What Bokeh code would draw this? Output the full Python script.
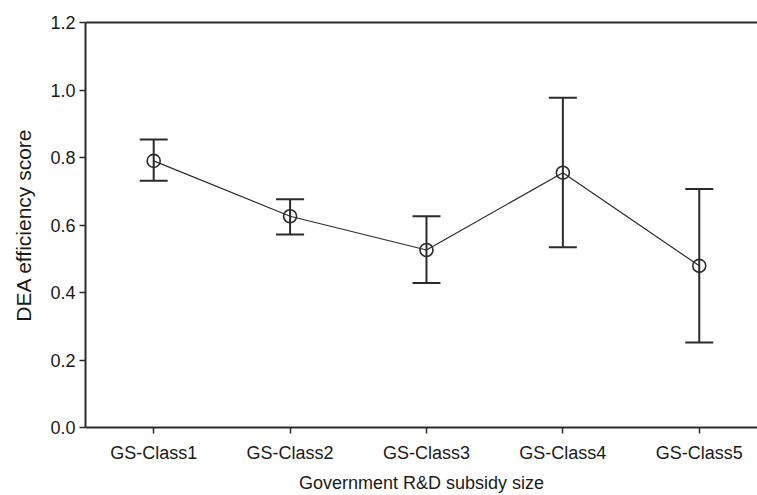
from bokeh.plotting import figure
from bokeh.models import (ColumnDataSource, Whisker, TeeHead, FixedTicker,
                          LinearAxis, NumeralTickFormatter)
from bokeh.embed import file_html
from bokeh.resources import INLINE

# ---- data ----
categories = ["GS-Class1", "GS-Class2", "GS-Class3", "GS-Class4", "GS-Class5"]
mean_score = [0.790, 0.626, 0.526, 0.755, 0.479]
upper_ci = [0.853, 0.676, 0.626, 0.977, 0.707]
lower_ci = [0.731, 0.572, 0.428, 0.534, 0.252]
y_ticks = [0.0, 0.2, 0.4, 0.6, 0.8, 1.0, 1.2]

xpos = [i + 1 for i in range(len(categories))]
src = ColumnDataSource(dict(x=xpos, mean=mean_score, upper=upper_ci, lower=lower_ci))

INK = "#2b2b2b"
FONT = "'Liberation Sans', Arial, sans-serif"

p = figure(width=757, height=495, x_range=(0.5, 5.427), y_range=(0, 1.2),
           output_backend="svg", toolbar_location=None,
           min_border_left=85, min_border_right=0, min_border_top=22,
           min_border_bottom=65)
p.outline_line_color = None
p.xgrid.visible = False
p.ygrid.visible = False
p.background_fill_color = "white"

# error bars
w = Whisker(source=src, base="x", upper="upper", lower="lower",
            line_color=INK, line_width=2,
            upper_head=TeeHead(size=28, line_color=INK, line_width=2),
            lower_head=TeeHead(size=28, line_color=INK, line_width=2))
p.add_layout(w)

p.line("x", "mean", source=src, line_color=INK, line_width=1.2)
p.scatter("x", "mean", source=src, marker="circle", size=13,
          fill_color=None, line_color=INK, line_width=1.6)

# axes
xa = p.xaxis[0]
xa.ticker = FixedTicker(ticks=xpos)
xa.major_label_overrides = {x: c for x, c in zip(xpos, categories)}
xa.axis_label = "Government R&D subsidy size"

ya = p.yaxis[0]
ya.ticker = FixedTicker(ticks=y_ticks)
ya.formatter = NumeralTickFormatter(format="0.0")
ya.axis_label = "DEA efficiency score"

for ax in (xa, ya):
    ax.axis_line_color = INK
    ax.axis_line_width = 2
    ax.major_tick_line_color = INK
    ax.major_tick_line_width = 1.5
    ax.major_tick_in = 0
    ax.major_tick_out = 6
    ax.minor_tick_line_color = None
    ax.major_label_text_font = FONT
    ax.major_label_text_font_size = "18px"
    ax.major_label_text_color = "#1a1a1a"
    ax.axis_label_text_font = FONT
    ax.axis_label_text_font_size = "18px"
    ax.axis_label_text_font_style = "normal"
    ax.axis_label_text_color = "#1a1a1a"

xa.major_label_standoff = 9
xa.axis_label_standoff = 7
ya.major_label_standoff = 4
ya.axis_label_standoff = 12
ya.axis_label_text_font_size = "21px"

top = LinearAxis(ticker=FixedTicker(ticks=[]), major_label_text_font_size="0px",
                 axis_line_color=INK, axis_line_width=2,
                 major_tick_line_color=None, minor_tick_line_color=None)
p.add_layout(top, "above")

open("out.html", "w").write(file_html(p, INLINE))
